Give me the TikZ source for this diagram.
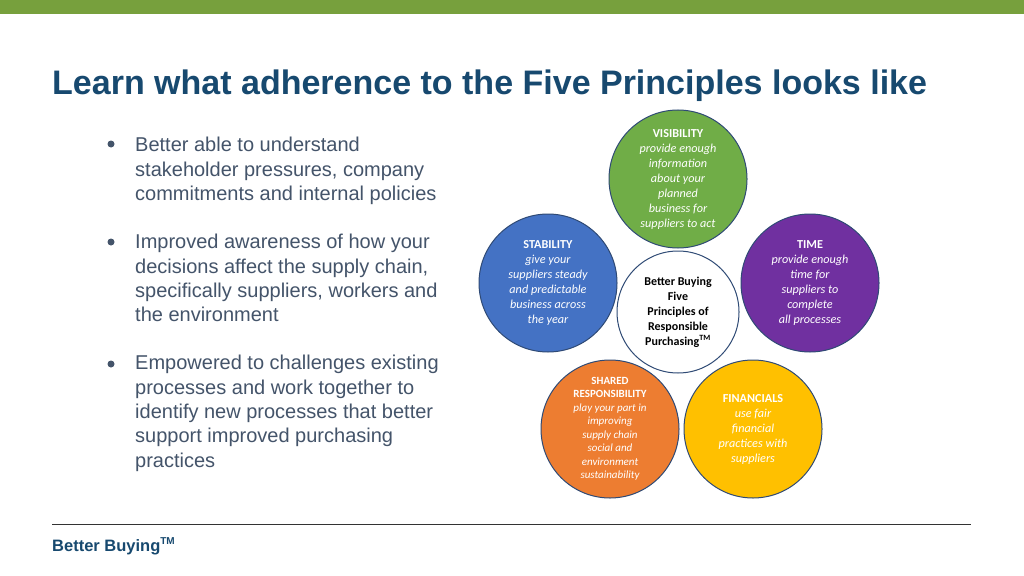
\documentclass[tikz,border=0pt]{standalone}
\usepackage{fontspec}
\setmainfont{Liberation Sans}
\newfontfamily\carlitofont{Carlito}
\definecolor{topgreen}{HTML}{77A03D}
\definecolor{titleblue}{HTML}{17496F}
\definecolor{bodygray}{HTML}{44546A}
\definecolor{ringblue}{HTML}{2F4A75}
\definecolor{cgreen}{HTML}{70AD47}
\definecolor{cblue}{HTML}{4472C4}
\definecolor{cpurple}{HTML}{7030A0}
\definecolor{corange}{HTML}{ED7D31}
\definecolor{cgold}{HTML}{FFC000}
\begin{document}
\begin{tikzpicture}[x=1pt,y=-1pt,
  circ/.style={circle,draw=ringblue,line width=1pt,minimum size=138pt,inner sep=0pt,text=white,font=\carlitofont\fontsize{12.2}{15}\selectfont,align=center},
  bul/.style={anchor=north west,text=bodygray,font=\fontsize{20}{24.4}\selectfont,align=left,inner sep=0pt},
  dot/.style={circle,fill=bodygray,minimum size=7pt,inner sep=0pt}]
\useasboundingbox (0,0) rectangle (1024,575);
\fill[white] (0,0) rectangle (1024,575);
\fill[topgreen] (0,0) rectangle (1024,14);
\node[anchor=base west,inner sep=0pt,text=titleblue,font=\bfseries\fontsize{34}{40}\selectfont] (title) at (52,95) {Learn what adherence to the Five Principles looks like};
\node[dot] (d1) at (111,144) {};
\node[bul] (b1) at (135,137) {Better able to understand\\stakeholder pressures, company\\commitments and internal policies};
\node[dot] (d2) at (111,242) {};
\node[bul] (b2) at (135,234) {Improved awareness of how your\\decisions affect the supply chain,\\specifically suppliers, workers and\\the environment};
\node[dot] (d3) at (111,364) {};
\node[bul] (b3) at (135,355) {Empowered to challenges existing\\processes and work together to\\identify new processes that better\\support improved purchasing\\practices};
\node[circ,fill=cgreen] (vis) at (678,179) {\textbf{VISIBILITY}\\\itshape provide enough\\\itshape information\\\itshape about your\\\itshape planned\\\itshape business for\\\itshape suppliers to act};
\node[circ,fill=cblue] (sta) at (548,283) {\textbf{STABILITY}\\\itshape give your\\\itshape suppliers steady\\\itshape and predictable\\\itshape business across\\\itshape the year};
\node[circ,fill=cpurple] (tim) at (810,283) {\textbf{TIME}\\\itshape provide enough\\\itshape time for\\\itshape suppliers to\\\itshape complete\\\itshape all processes};
\node[circ,fill=corange,font=\carlitofont\fontsize{11}{13.5}\selectfont] (sha) at (610,429) {\textbf{SHARED}\\\textbf{RESPONSIBILITY}\\\itshape play your part in\\\itshape improving\\\itshape supply chain\\\itshape social and\\\itshape environment\\\itshape sustainability};
\node[circ,fill=cgold] (fin) at (753,429) {\textbf{FINANCIALS}\\\itshape use fair\\\itshape financial\\\itshape practices with\\\itshape suppliers};
\node[circle,draw=ringblue,line width=1pt,fill=white,minimum size=122pt,inner sep=0pt,align=center,font=\carlitofont\bfseries\fontsize{12}{15}\selectfont] (ctr) at (678,312) {Better Buying\\Five\\Principles of\\Responsible\\Purchasing\textsuperscript{TM}};
\coordinate (l1) at (52,524);
\coordinate (l2) at (971,524);
\draw[black!80,line width=0.8pt] (l1) -- (l2);
\node[anchor=base west,inner sep=0pt,text=titleblue,font=\bfseries\fontsize{16.5}{20}\selectfont] (foot) at (52,551) {Better Buying\textsuperscript{\fontsize{10}{10}\selectfont TM}};
\end{tikzpicture}
\end{document}
